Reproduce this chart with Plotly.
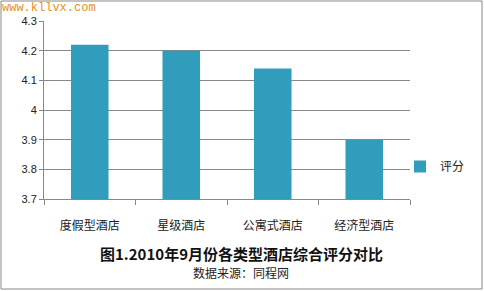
import plotly.graph_objects as go

categories = ["度假型酒店", "星级酒店", "公寓式酒店", "经济型酒店"]
scores = [4.22, 4.20, 4.14, 3.90]
series_name = "评分"
y_ticks = [3.7, 3.8, 3.9, 4.0, 4.1, 4.2, 4.3]
y_tick_text = ["3.7", "3.8", "3.9", "4", "4.1", "4.2", "4.3"]

W, H = 484, 291
L, R, T, B = 44, 74, 21, 92
pw, ph = W - L - R, H - T - B

def px(x):
    return (x - L) / pw

def py(y):
    return 1 - (y - T) / ph

font = "Noto Sans CJK SC, Noto Sans, sans-serif"

fig = go.Figure()
fig.add_trace(go.Bar(
    x=categories, y=scores, name=series_name,
    marker=dict(color="#319dbd", line=dict(width=0)),
    showlegend=True,
))

fig.update_layout(
    width=W, height=H,
    margin=dict(l=L, r=R, t=T, b=B, pad=0, autoexpand=False),
    paper_bgcolor="white", plot_bgcolor="white",
    font=dict(family=font, size=11, color="#222"),
    bargap=0.59,
    showlegend=True,
    legend=dict(x=px(400), y=py(152), xanchor="left", yanchor="top",
                font=dict(size=12, color="#222"), bgcolor="rgba(0,0,0,0)",
                itemwidth=30),
    xaxis=dict(
        showline=True, linecolor="#888", linewidth=1,
        ticks="outside", ticklen=5, tickcolor="#888",
        tickson="boundaries", showgrid=False,
        tickfont=dict(size=12, color="#222"), ticklabelstandoff=16,
    ),
    yaxis=dict(
        range=[3.7, 4.3], tickvals=y_ticks, ticktext=y_tick_text,
        showline=True, linecolor="#888", linewidth=1,
        ticks="outside", ticklen=4, tickcolor="#888",
        showgrid=True, gridcolor="#888", gridwidth=1,
        zeroline=False,
        tickfont=dict(family="Liberation Sans, DejaVu Sans, sans-serif", size=11, color="#222"),
    ),
    shapes=[dict(type="rect", xref="paper", yref="paper",
                 x0=px(1), x1=px(482), y0=py(289), y1=py(1),
                 line=dict(color="#888", width=1), fillcolor="rgba(0,0,0,0)",
                 layer="below")],
    annotations=[
        dict(text="www.kllvx.com", xref="paper", yref="paper",
             x=px(1), y=py(0), xanchor="left", yanchor="top", borderpad=0,
             showarrow=False, font=dict(family="Liberation Mono", size=12, color="#e69025")),
        dict(text="<b>图1.2010年9月份各类型酒店综合评分对比</b>", xref="paper", yref="paper",
             x=px(241), y=py(253), xanchor="center", yanchor="middle",
             showarrow=False, font=dict(size=15, color="#111")),
        dict(text="数据来源：同程网", xref="paper", yref="paper",
             x=px(241), y=py(272), xanchor="center", yanchor="middle",
             showarrow=False, font=dict(size=12, color="#222")),
    ],
)

fig.write_html("out.html")
